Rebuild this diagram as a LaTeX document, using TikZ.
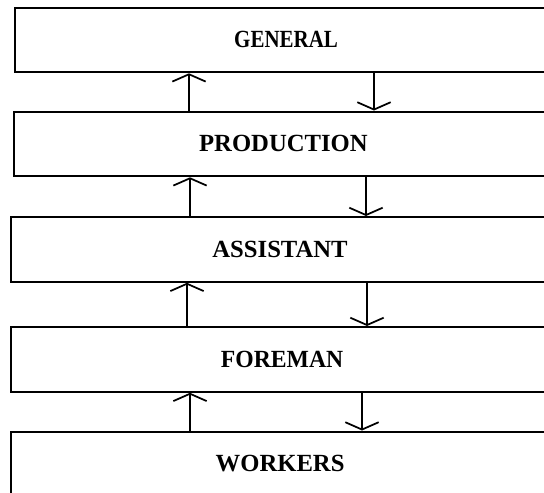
\documentclass[tikz,border=0pt]{standalone}
\usepackage{fontspec}
\setmainfont{Liberation Serif}
\usetikzlibrary{arrows.meta}

\begin{document}
\begin{tikzpicture}[x=0.75pt, y=-0.75pt,
    box/.style={draw, line width=1.6pt, rectangle, anchor=north west, minimum height=48.5pt, font=\fontsize{18.5}{20}\selectfont\bfseries},
    flow/.style={-{Straight Barb[length=5.5pt, width=25pt]}, line width=1.3pt}]
    \useasboundingbox (0,0) rectangle (544,493);
    \clip (0,0) rectangle (544,493);

    % Levels
    \node[box, minimum width=406.5pt] (general) at (14,6.5) {\scalebox{0.85}[1]{GENERAL}};
    \node[box, minimum width=404.5pt] (production) at (12.7,110.5) {PRODUCTION};
    \node[box, minimum width=403.5pt] (assistant) at (10,216) {ASSISTANT};
    \node[box, minimum width=406.5pt] (foreman) at (10,326) {\scalebox{0.96}[1]{FOREMAN}};
    \node[box, minimum width=403.5pt] (workers) at (10,430.5) {WORKERS};

    % Reports up, orders down
    \draw[flow] (production.north -| 189,0) -- (general.south -| 189,0);
    \draw[flow] (general.south -| 374,0) -- (production.north -| 374,0);
    \draw[flow] (assistant.north -| 190,0) -- (production.south -| 190,0);
    \draw[flow] (production.south -| 366,0) -- (assistant.north -| 366,0);
    \draw[flow] (foreman.north -| 187,0) -- (assistant.south -| 187,0);
    \draw[flow] (assistant.south -| 367,0) -- (foreman.north -| 367,0);
    \draw[flow] (workers.north -| 190,0) -- (foreman.south -| 190,0);
    \draw[flow] (foreman.south -| 362,0) -- (workers.north -| 362,0);
\end{tikzpicture}
\end{document}
